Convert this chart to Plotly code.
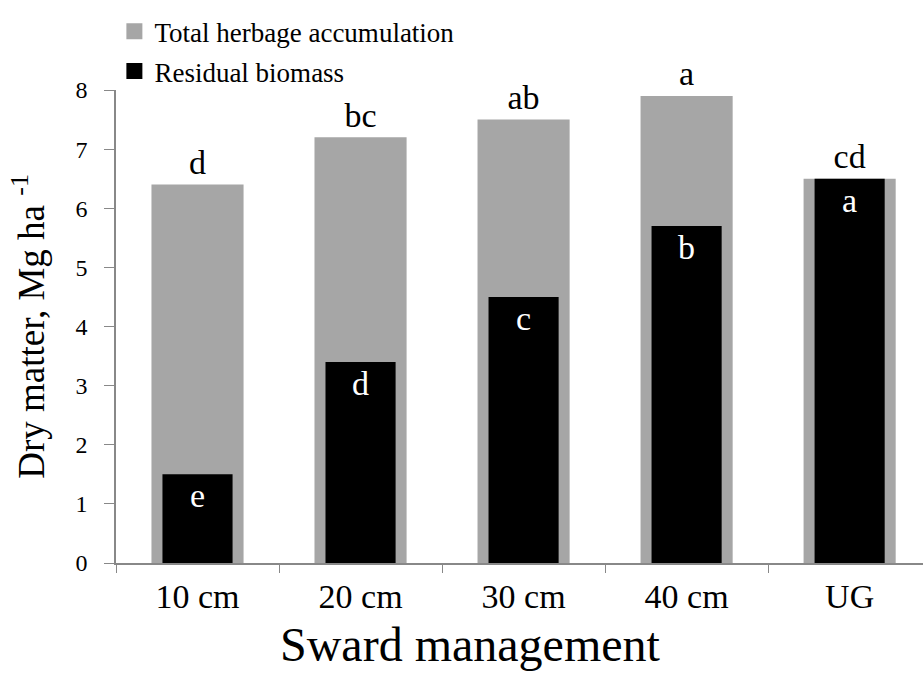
import plotly.graph_objects as go

categories = ["10 cm", "20 cm", "30 cm", "40 cm", "UG"]
total_herbage = [6.4, 7.2, 7.5, 7.9, 6.5]
residual_biomass = [1.5, 3.4, 4.5, 5.7, 6.5]
total_letters = ["d", "bc", "ab", "a", "cd"]
residual_letters = ["e", "d", "c", "b", "a"]
series_names = ["Total herbage accumulation", "Residual biomass"]

FONT = "Liberation Serif, Times New Roman, serif"
GRAY = "#A6A6A6"

fig = go.Figure()
fig.add_trace(go.Bar(
    x=categories, y=total_herbage, name=series_names[0],
    marker=dict(color=GRAY, line=dict(width=0)), width=0.565,
    text=total_letters, textposition="outside",
    textfont=dict(family=FONT, size=36, color="black"),
    cliponaxis=False, showlegend=False,
))
fig.add_trace(go.Bar(
    x=categories, y=residual_biomass, name=series_names[1],
    marker=dict(color="black", line=dict(width=0)), width=0.43,
    text=residual_letters, textposition="inside", insidetextanchor="end",
    textfont=dict(family=FONT, size=34, color="white"),
    showlegend=False,
))
# legend entries with larger square swatches
for nm, col, lg in [(series_names[0], GRAY, "legend"), (series_names[1], "black", "legend2")]:
    fig.add_trace(go.Scatter(
        x=[None], y=[None], mode="markers", name=nm,
        marker=dict(symbol="square", size=17, color=col),
        legend=lg, showlegend=True,
    ))

fig.update_layout(
    width=923, height=675,
    margin=dict(l=116, r=0, t=90, b=112),
    barmode="overlay",
    showlegend=True,
    plot_bgcolor="white", paper_bgcolor="white",
    font=dict(family=FONT, color="black"),
    uniformtext=dict(minsize=10, mode="show"),
    legend=dict(x=-0.002, y=1.175, xanchor="left", yanchor="top",
                font=dict(family=FONT, size=27), bgcolor="rgba(0,0,0,0)"),
    legend2=dict(x=-0.002, y=1.091, xanchor="left", yanchor="top",
                 font=dict(family=FONT, size=27), bgcolor="rgba(0,0,0,0)"),
    xaxis=dict(
        type="category", range=[-0.5, 4.45],
        showline=True, linecolor="#888888", linewidth=1.5,
        ticks="outside", tickson="boundaries", ticklen=8, tickcolor="#888888",
        ticklabelstandoff=2,
        tickfont=dict(family=FONT, size=34),
        showgrid=False,
    ),
    yaxis=dict(
        range=[0, 8], dtick=1, tick0=0,
        showline=True, linecolor="#888888", linewidth=1.5,
        ticks="outside", ticklen=10, tickcolor="#888888",
        ticklabelstandoff=12,
        tickfont=dict(family=FONT, size=24),
        title=dict(text="Dry matter, Mg ha <sup>-1</sup>", font=dict(family=FONT, size=37), standoff=20),
        showgrid=False, zeroline=False,
    ),
    annotations=[dict(
        text="Sward management", xref="paper", yref="paper",
        x=0.4387, y=-0.173, xanchor="center", yanchor="middle",
        showarrow=False, font=dict(family=FONT, size=48, color="black"),
    )],
)

fig.write_html("out.html")
